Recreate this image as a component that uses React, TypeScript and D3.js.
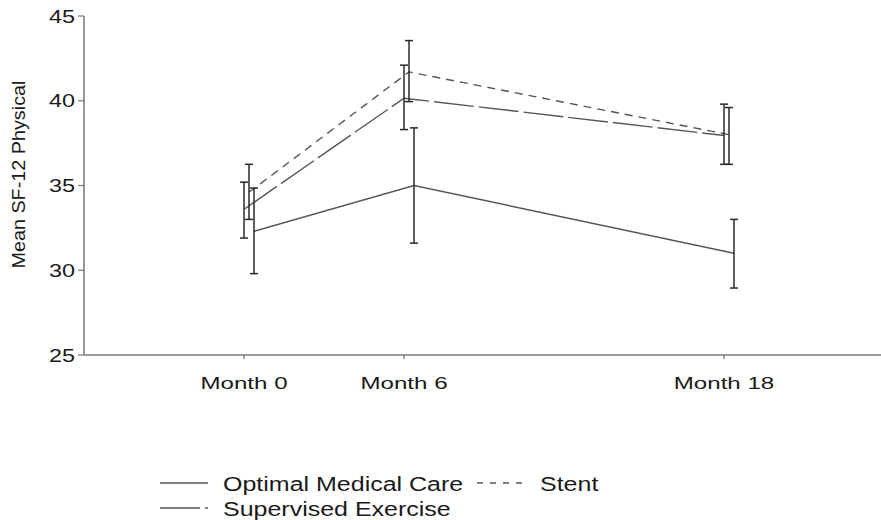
import * as d3 from "d3";
import { useEffect, useRef } from "react";

// months of follow-up
const months = [0, 6, 18];
const monthLabels = ["Month 0", "Month 6", "Month 18"];
const yTicks = [25, 30, 35, 40, 45];

// mean SF-12 physical score and 95% CI per group
const omcMean = [32.3, 35.0, 31.0];
const omcLow = [29.8, 31.6, 28.95];
const omcHigh = [34.85, 38.4, 33.0];

const stentMean = [34.6, 41.7, 38.0];
const stentLow = [33.0, 39.95, 36.25];
const stentHigh = [36.25, 43.55, 39.6];

const seMean = [33.6, 40.15, 37.95];
const seLow = [31.9, 38.3, 36.25];
const seHigh = [35.2, 42.1, 39.8];

const W = 881;
const H = 520;
const FONT = "'Liberation Sans', Arial, sans-serif";

const App = () => {
  const svgRef = useRef<SVGSVGElement>(null);

  useEffect(() => {
    const svg = d3.select(svgRef.current);
    svg.selectAll("*").remove();

    const x = d3.scaleLinear().domain([-6, 24]).range([84, 884]);
    const y = d3.scaleLinear().domain([25, 45]).range([355, 16]);

    const series = [
      { name: "Supervised Exercise", mean: seMean, low: seLow, high: seHigh, dx: 0, dash: "40,5" },
      { name: "Stent", mean: stentMean, low: stentLow, high: stentHigh, dx: 5, dash: "8,6" },
      { name: "Optimal Medical Care", mean: omcMean, low: omcLow, high: omcHigh, dx: 10, dash: null },
    ];

    // axes
    svg.append("line")
      .attr("x1", 84).attr("x2", 881)
      .attr("y1", y(25)).attr("y2", y(25))
      .attr("stroke", "#9a9a9a").attr("stroke-width", 2);
    svg.append("line")
      .attr("x1", 84).attr("x2", 84)
      .attr("y1", y(45)).attr("y2", y(25))
      .attr("stroke", "#777").attr("stroke-width", 1.5);

    yTicks.forEach((t) => {
      svg.append("line")
        .attr("x1", 78).attr("x2", 84)
        .attr("y1", y(t)).attr("y2", y(t))
        .attr("stroke", "#777").attr("stroke-width", 1.2);
      svg.append("text")
        .attr("transform", `translate(75,${y(t) + 6.5}) scale(1.3,1)`)
        .attr("text-anchor", "end")
        .attr("font-family", FONT).attr("font-size", 18)
        .attr("fill", "#1a1a1a")
        .text(t);
    });

    months.forEach((m, i) => {
      svg.append("line")
        .attr("x1", x(m)).attr("x2", x(m))
        .attr("y1", y(25)).attr("y2", y(25) + 4)
        .attr("stroke", "#666").attr("stroke-width", 1.2);
      svg.append("text")
        .attr("transform", `translate(${x(m)},${y(25) + 34}) scale(1.42,1)`)
        .attr("text-anchor", "middle")
        .attr("font-family", FONT).attr("font-size", 17)
        .attr("fill", "#1a1a1a")
        .text(monthLabels[i]);
    });

    svg.append("text")
      .attr("transform", `translate(25,${(y(30) + y(42)) / 2 + 6}) rotate(-90)`)
      .attr("text-anchor", "middle")
      .attr("font-family", FONT).attr("font-size", 19)
      .attr("textLength", 188).attr("lengthAdjust", "spacingAndGlyphs")
      .attr("fill", "#1a1a1a")
      .text("Mean SF-12 Physical");

    // lines
    series.forEach((s) => {
      const line = d3.line<number>()
        .x((m) => x(m) + s.dx)
        .y((m, i) => y(s.mean[i]));
      svg.append("path")
        .attr("d", line(months))
        .attr("fill", "none")
        .attr("stroke", "#555")
        .attr("stroke-width", 1.4)
        .attr("stroke-dasharray", s.dash);
    });

    // error bars
    series.forEach((s) => {
      months.forEach((m, i) => {
        const cx = x(m) + s.dx;
        const g = svg.append("g").attr("stroke", "#2a2a2a").attr("stroke-width", 1.5);
        g.append("line").attr("x1", cx).attr("x2", cx).attr("y1", y(s.low[i])).attr("y2", y(s.high[i]));
        g.append("line").attr("x1", cx - 4).attr("x2", cx + 4).attr("y1", y(s.low[i])).attr("y2", y(s.low[i]));
        g.append("line").attr("x1", cx - 4).attr("x2", cx + 4).attr("y1", y(s.high[i])).attr("y2", y(s.high[i]));
      });
    });

    // legend
    const legend = [
      { s: series[2], x: 160, y: 483 },
      { s: series[1], x: 477, y: 483 },
      { s: series[0], x: 160, y: 508 },
    ];
    legend.forEach((l) => {
      svg.append("line")
        .attr("x1", l.x).attr("x2", l.x + 48)
        .attr("y1", l.y).attr("y2", l.y)
        .attr("stroke", "#555").attr("stroke-width", 1.4)
        .attr("stroke-dasharray", l.s.name === "Stent" ? "6,7" : l.s.dash);
      svg.append("text")
        .attr("transform", `translate(${l.x + 63},${l.y + 8}) scale(1.25,1)`)
        .attr("font-family", FONT).attr("font-size", 20)
        .attr("fill", "#1a1a1a")
        .text(l.s.name);
    });
  }, []);

  return <svg ref={svgRef} width={W} height={H} style={{ display: "block", position: "absolute", left: 0, top: 0, background: "#fff" }}></svg>;
};

export default App;
